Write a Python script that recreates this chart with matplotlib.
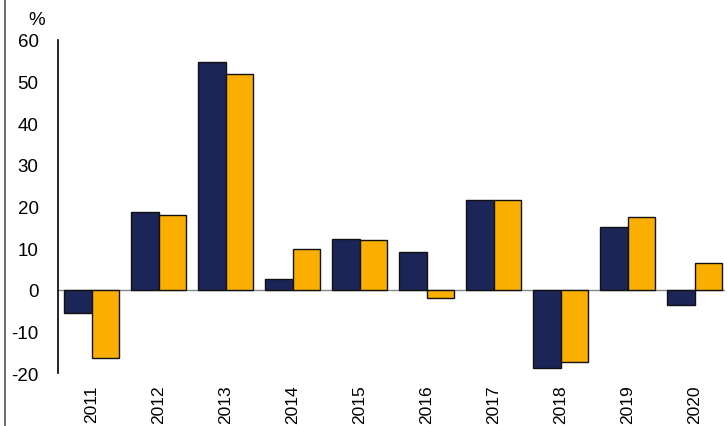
import matplotlib.pyplot as plt
import numpy as np
from matplotlib.lines import Line2D

years = ['2011', '2012', '2013', '2014', '2015', '2016', '2017', '2018', '2019', '2020']
series_a = [-5.5, 18.7, 54.8, 2.6, 12.3, 9.1, 21.6, -18.8, 15.1, -3.6]
series_b = [-16.3, 18.0, 51.9, 9.9, 12.0, -1.9, 21.6, -17.3, 17.5, 6.5]
yticks = [-20, -10, 0, 10, 20, 30, 40, 50, 60]


def main():
    plt.rcParams['font.family'] = ['Liberation Sans', 'DejaVu Sans']
    plt.rcParams['axes.unicode_minus'] = False
    fig = plt.figure(figsize=(7.27, 4.27), dpi=100)
    ax = fig.add_axes([0.0798, 0.124, 0.917, 0.780])

    x = np.arange(len(years))
    w = 0.41
    ax.bar(x - w / 2, series_a, w, color='#1B2557', edgecolor='#111111', linewidth=1, zorder=3)
    ax.bar(x + w / 2, series_b, w, color='#F9AE00', edgecolor='#111111', linewidth=1, zorder=3)
    ax.axhline(0, color='#888888', linewidth=1, zorder=2)

    ax.set_xlim(-0.5, 9.45)
    ax.set_ylim(-20, 60)
    ax.set_yticks(yticks)
    ax.set_xticks(x)
    ax.set_xticklabels(years, rotation=90)
    ax.tick_params(axis='both', length=0)
    ax.tick_params(axis='y', pad=14, labelsize=13.5)
    ax.tick_params(axis='x', pad=8, labelsize=12.5)

    for s in ['top', 'right', 'bottom']:
        ax.spines[s].set_visible(False)
    ax.spines['left'].set_linewidth(1.2)
    ax.spines['left'].set_color('#000000')

    fig.text(0.05, 0.952, '%', fontsize=13.5, ha='center', va='center')
    fig.add_artist(Line2D([0.007, 0.007], [0, 1], transform=fig.transFigure,
                          color='#555555', linewidth=1.2))

    fig.savefig('out.png', dpi=100)


if __name__ == '__main__':
    main()
